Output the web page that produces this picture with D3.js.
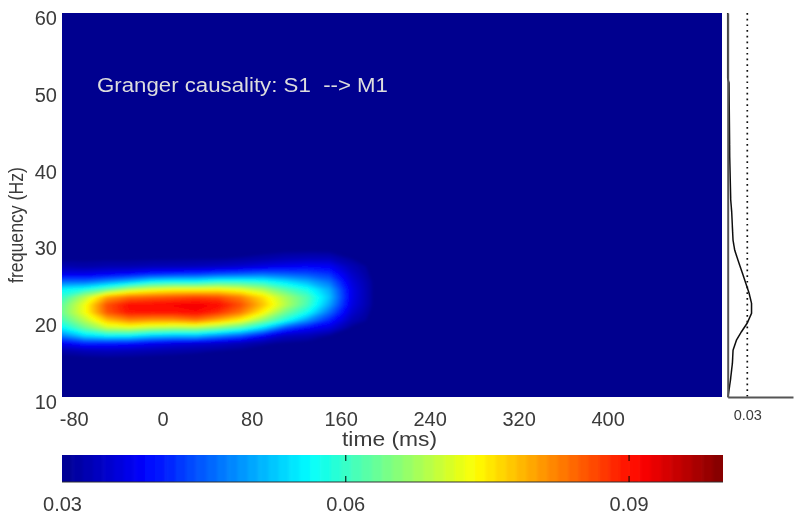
<!DOCTYPE html>
<html>
<head>
<meta charset="utf-8">
<script src="https://cdn.jsdelivr.net/npm/d3@7"></script>
<style>
body { margin: 0; background: #fff; }
text { font-family: "Liberation Sans", sans-serif; fill: #3a3a3a; }
</style>
</head>
<body>
<svg id="chart" width="800" height="520"></svg>
<script>
"use strict"

// time of each slice (ms) and frequency of each row (Hz)
let times = [-90, -70, -50, -30, -10, 10, 30, 50, 70, 90, 110, 130, 150, 170, 190, 210]
let freqs = [15, 16, 17, 18, 19, 20, 21, 22, 23, 24, 25, 26, 27, 28, 29, 30]

// causality x 1000, one array per time slice
let slices = [
    [30, 32, 38, 48, 56, 61, 64, 63, 60, 56, 46, 37, 32.5, 30.5, 30, 30],
    [30.3, 33, 41, 54, 63.5, 69, 73, 73, 69, 58, 46, 37, 32, 30.5, 30, 30],
    [30.5, 33.5, 40.5, 56.3, 70, 78, 85.5, 86, 80, 63, 49, 38, 32.5, 30.6, 30, 30],
    [30.4, 33, 40, 56, 71, 82, 90, 90.5, 84, 69, 52, 39, 32.5, 30.6, 30, 30],
    [30.2, 32.5, 38, 53, 69, 81, 90, 91, 85, 72, 56, 41, 33, 30.7, 30, 30],
    [30, 32, 36.5, 52, 68, 81, 90, 91.5, 86, 73.5, 57, 42, 33.2, 30.8, 30, 30],
    [30, 31.5, 35.5, 52, 68, 83, 91, 92, 87, 73.5, 57, 42.5, 33.4, 30.9, 30, 30],
    [30, 31, 34.5, 48.5, 65, 79, 88, 90.8, 86.2, 74, 59, 44, 34, 31, 30, 30],
    [30, 30.5, 33, 45, 61, 74, 83, 86, 82.6, 72, 59, 45, 35, 31.3, 30, 30],
    [30, 30, 31.5, 39, 54, 66, 74, 78, 76, 68, 58, 46, 36.5, 32, 30.3, 30],
    [30, 30, 30.7, 34, 44, 58, 64, 69, 68, 62, 54.5, 45, 37.5, 33, 30.7, 30],
    [30, 30, 30.2, 33, 39, 49, 57, 61, 61.5, 57.5, 51, 44, 38.5, 33.5, 30.8, 30],
    [30, 30, 30, 31, 36, 41, 46, 50, 52, 50.5, 46.5, 42, 38, 33.5, 30.7, 30],
    [30, 30, 30, 30, 30.5, 33, 35, 36.5, 37, 37, 36, 34.5, 33, 31, 30, 30],
    [30, 30, 30, 30, 30, 30, 30, 30.5, 30.5, 30.5, 30.5, 30, 30, 30, 30, 30],
    [30, 30, 30, 30, 30, 30, 30, 30, 30, 30, 30, 30, 30, 30, 30, 30]
]

// mean causality per frequency, the small panel on the right
let marginFreqs = [10, 12.2, 14.4, 16.1, 17.4, 18.5, 19.6, 20.9, 22.2, 23.5, 24.8, 26.1, 27.8, 29.1, 30.4, 32.1, 34, 35.7, 41.3, 50.9, 51.5, 60]
let marginValues = [0.0005, 0.0042, 0.0072, 0.0082, 0.0134, 0.0211, 0.0297, 0.0365, 0.0365, 0.0328, 0.0277, 0.0226, 0.0158, 0.0108, 0.0082, 0.0072, 0.0062, 0.0046, 0.0031, 0.002, 0, 0]

let timeTicks = [-80, 0, 80, 160, 240, 320, 400]
let freqTicks = [10, 20, 30, 40, 50, 60]
let colorTicks = [0.03, 0.06, 0.09]
let colorMin = 0.03
let colorMax = 0.1
let nColors = 64

let jetStops = [0, 0.125, 0.375, 0.625, 0.875, 1]
let jetColors = ["#00008f", "#0000ff", "#00ffff", "#ffff00", "#ff0000", "#800000"]

let svg = d3.select("#chart")

let x = d3.scaleLinear().domain([-90.5, 502.8]).range([62, 722])
let y = d3.scaleLinear().domain([10, 60]).range([397, 13])
let jet = d3.scaleLinear()
    .domain(jetStops.map(function(d) { return colorMin + d * (colorMax - colorMin) }))
    .range(jetColors)

let levels = d3.range(nColors).map(function(i) {
    return colorMin + i * (colorMax - colorMin) / nColors
})
let step = levels[1] - levels[0]

let defs = svg.append("defs")
defs.append("clipPath").attr("id", "plotClip")
    .append("rect")
    .attr("x", x.range()[0]).attr("y", y.range()[1])
    .attr("width", x.range()[1] - x.range()[0])
    .attr("height", y.range()[0] - y.range()[1])
defs.append("clipPath").attr("id", "barClip")
    .append("rect")
    .attr("x", 62).attr("y", 455).attr("width", 661).attr("height", 27)
defs.append("filter").attr("id", "soft")
    .attr("x", "-5%").attr("y", "-5%").attr("width", "110%").attr("height", "110%")
    .append("feGaussianBlur").attr("stdDeviation", 1.6)
defs.append("filter").attr("id", "barSoft")
    .attr("x", "-1%").attr("y", "-1%").attr("width", "102%").attr("height", "102%")
    .append("feGaussianBlur").attr("stdDeviation", "1.6 0")
// the reference is a soft jpeg, so everything gets a touch of blur
defs.append("filter").attr("id", "jpeg")
    .attr("filterUnits", "userSpaceOnUse")
    .attr("x", 0).attr("y", 0).attr("width", 800).attr("height", 520)
    .append("feGaussianBlur").attr("stdDeviation", 0.4)

let root = svg.append("g").attr("filter", "url(#jpeg)")

// heat map
let grid = []
freqs.forEach(function(f, j) {
    slices.forEach(function(s) { grid.push(s[j] / 1000) })
})

let contours = d3.contours()
    .size([times.length, freqs.length])
    .thresholds(levels.slice(1))(grid)

let gridPath = d3.geoPath(d3.geoTransform({
    point: function(cx, cy) {
        let t = times[0] + (cx - 0.5) * (times[1] - times[0])
        let f = freqs[0] + (cy - 0.5) * (freqs[1] - freqs[0])
        this.stream.point(x(t), y(f))
    }
}))

let plot = root.append("g").attr("clip-path", "url(#plotClip)")
plot.append("rect")
    .attr("x", x.range()[0]).attr("y", y.range()[1])
    .attr("width", x.range()[1] - x.range()[0])
    .attr("height", y.range()[0] - y.range()[1])
    .attr("fill", jet(colorMin))

plot.append("g").attr("filter", "url(#soft)")
    .selectAll("path")
    .data(contours)
    .enter().append("path")
    .attr("d", gridPath)
    .attr("fill", function(d) { return jet(d.value + step / 2) })

plot.append("text")
    .attr("x", 97).attr("y", 92)
    .style("fill", "#ddd")
    .style("font-size", "20px")
    .attr("textLength", 291)
    .attr("lengthAdjust", "spacingAndGlyphs")
    .attr("xml:space", "preserve")
    .text("Granger causality: S1  --> M1")

// axes of the heat map
let xAxis = d3.axisBottom(x).tickValues(timeTicks).tickSize(0).tickPadding(15).tickFormat(String)
let yAxis = d3.axisLeft(y).tickValues(freqTicks).tickSize(0).tickPadding(5)

let xg = root.append("g").attr("transform", "translate(0,397)").call(xAxis)
let yg = root.append("g").attr("transform", "translate(62,5)").call(yAxis)
xg.select(".domain").remove()
yg.select(".domain").remove()
xg.selectAll("text").style("font-size", "20px")
yg.selectAll("text").style("font-size", "20px")

root.append("text")
    .attr("x", 389.5).attr("y", 446)
    .attr("text-anchor", "middle")
    .style("font-size", "21px")
    .attr("textLength", 95)
    .attr("lengthAdjust", "spacingAndGlyphs")
    .text("time (ms)")

root.append("text")
    .attr("transform", "translate(22.5,225) rotate(-90)")
    .attr("text-anchor", "middle")
    .style("font-size", "20px")
    .attr("textLength", 116)
    .attr("lengthAdjust", "spacingAndGlyphs")
    .text("frequency (Hz)")

// small panel on the right
let mx = d3.scaleLinear().domain([0, 0.1]).range([727.7, 793])
let my = d3.scaleLinear().domain([10, 60]).range([397, 13])

let line = d3.line()
    .x(function(d) { return mx(d[1]) })
    .y(function(d) { return my(d[0]) })
    .curve(d3.curveLinear)

root.append("line")
    .attr("x1", mx(0.03)).attr("x2", mx(0.03))
    .attr("y1", my(60)).attr("y2", my(10))
    .attr("stroke", "#111").attr("stroke-width", 1.7)
    .attr("stroke-dasharray", "1.7,4")

root.append("path")
    .datum(d3.zip(marginFreqs, marginValues))
    .attr("d", line)
    .attr("fill", "none")
    .attr("stroke", "#111")
    .attr("stroke-width", 1.5)

let mxAxis = d3.axisBottom(mx).tickValues([0.03]).tickSize(0).tickPadding(13).tickFormat(d3.format(".2f"))
let myAxis = d3.axisLeft(my).tickValues([]).tickSize(0)

let mxg = root.append("g").attr("transform", "translate(0,397)").call(mxAxis)
let myg = root.append("g").attr("transform", "translate(727.7,0)").call(myAxis)
mxg.selectAll("text").style("font-size", "14.5px")
mxg.select(".domain").attr("stroke", "#555").attr("stroke-width", 2)
myg.select(".domain").attr("stroke", "#555").attr("stroke-width", 2)

// colour bar
let cx = d3.scaleLinear().domain([colorMin, colorMax]).range([62, 723])

root.append("g").attr("clip-path", "url(#barClip)")
    .append("g").attr("filter", "url(#barSoft)")
    .selectAll("rect")
    .data(levels)
    .enter().append("rect")
    .attr("x", function(d, i) { return i == 0 ? cx(d) - 10 : cx(d) })
    .attr("y", 455)
    .attr("width", function(d, i) {
        let w = cx(colorMin + step) - cx(colorMin) + 0.5
        return i == 0 || i == nColors - 1 ? w + 10 : w
    })
    .attr("height", 27)
    .attr("fill", function(d) { return jet(d + step / 2) })

root.append("line")
    .attr("x1", 62).attr("x2", 723).attr("y1", 482).attr("y2", 482)
    .attr("stroke", "#333").attr("stroke-width", 1)

let barTop = root.append("g").attr("transform", "translate(0,455)")
    .call(d3.axisBottom(cx).tickValues(colorTicks.slice(1)).tickSize(6).tickFormat(""))
barTop.select(".domain").remove()
let barBottom = root.append("g").attr("transform", "translate(0,482)")
    .call(d3.axisTop(cx).tickValues(colorTicks.slice(1)).tickSize(6).tickFormat(""))
barBottom.select(".domain").remove()

let barLabels = root.append("g").attr("transform", "translate(0,482)")
    .call(d3.axisBottom(cx).tickValues(colorTicks).tickSize(0).tickPadding(15).tickFormat(d3.format(".2f")))
barLabels.select(".domain").remove()
barLabels.selectAll("text").style("font-size", "20px")
</script>
</body>
</html>
